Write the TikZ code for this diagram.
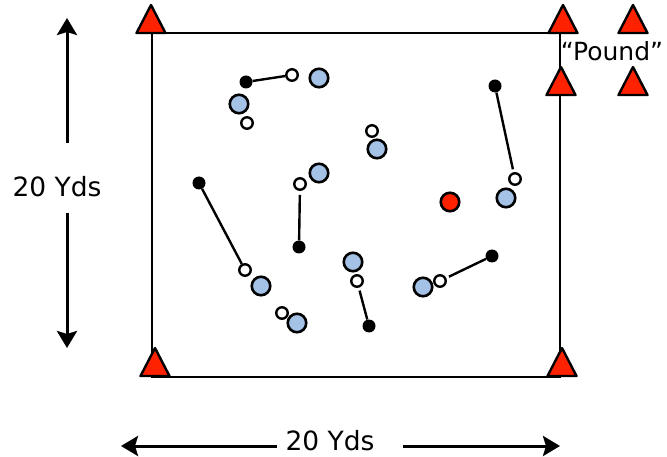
\documentclass[tikz,border=0pt]{standalone}
\usepackage{fontspec}
\setmainfont{DejaVu Sans}
\usetikzlibrary{arrows.meta}
\definecolor{pblue}{RGB}{164,194,230}
\definecolor{pred}{RGB}{255,34,0}
\tikzset{
  bluep/.style={circle,draw=black,line width=2.6pt,fill=pblue,minimum size=18.5pt,inner sep=0pt},
  whitep/.style={circle,draw=black,line width=2.4pt,fill=white,minimum size=11.5pt,inner sep=0pt},
  blackp/.style={circle,fill=black,minimum size=13pt,inner sep=0pt},
  ballp/.style={circle,draw=black,line width=2.6pt,fill=pred,minimum size=18.5pt,inner sep=0pt},
  link/.style={line width=2.4pt},
  field/.style={line width=2.6pt},
  dim/.style={line width=3pt,-{Stealth[length=17pt,width=20pt,inset=3pt]}},
  lbl/.style={font=\fontsize{26.5}{31}\selectfont,inner sep=0pt,anchor=base},
  cone/.pic={\filldraw[fill=pred,draw=black,line width=2.4pt,line join=round] (-14.5,0)--(14.5,0)--(0,-28)--cycle;}
}
\begin{document}
\begin{tikzpicture}[x=1pt,y=-1pt]
\useasboundingbox (0,0) rectangle (667,457);
% field
\coordinate (f1) at (152,33);
\coordinate (f2) at (560,377);
\draw[field] (f1) rectangle (f2);
% cones
\pic at (151,33) {cone};
\pic at (563,33) {cone};
\pic at (561,95) {cone};
\pic at (633,33) {cone};
\pic at (633,95) {cone};
\pic at (155,376) {cone};
\pic at (562,376) {cone};
\node[lbl,font=\fontsize{25}{30}\selectfont] (pound) at (612,61) {“Pound”};
% players
\node[blackp] (b1) at (246,82) {};
\node[whitep] (w1) at (292,75) {};
\node[bluep] (u1) at (319,78) {};
\node[bluep] (u2) at (239,104) {};
\node[whitep] (w2) at (247,123) {};
\node[whitep] (w3) at (372,131) {};
\node[bluep] (u3) at (377,149) {};
\node[blackp] (b2) at (495,86) {};
\node[whitep] (w4) at (515,179) {};
\node[bluep] (u4) at (506,198) {};
\node[ballp] (ball) at (450,202) {};
\node[blackp] (b3) at (199,183) {};
\node[whitep] (w5) at (245,270) {};
\node[bluep] (u5) at (261,286) {};
\node[whitep] (w6) at (282,313) {};
\node[bluep] (u6) at (297,323) {};
\node[whitep] (w7) at (300,184) {};
\node[bluep] (u7) at (319,173) {};
\node[blackp] (b4) at (299,247) {};
\node[bluep] (u8) at (353,262) {};
\node[whitep] (w8) at (357,281) {};
\node[blackp] (b5) at (369,326) {};
\node[blackp] (b6) at (492,256) {};
\node[whitep] (w9) at (440,281) {};
\node[bluep] (u9) at (423,287) {};
% links
\draw[link] (b1) -- (w1);
\draw[link,shorten >=3pt] (b2) -- (w4);
\draw[link] (b3) -- (w5);
\draw[link,shorten <=4pt] (w7) -- (b4);
\draw[link,shorten <=3pt] (w8) -- (b5);
\draw[link,shorten >=3pt] (b6) -- (w9);
% dimensions
\node[lbl] (lv) at (57,197) {20 Yds};
\node[lbl] (lh) at (330,450) {20 Yds};
\coordinate (vt) at (67,18);
\coordinate (vb) at (67,348);
\coordinate (hl) at (121,446);
\coordinate (hr) at (560,446);
\draw[dim] (67,143) -- (vt);
\draw[dim] (67,213) -- (vb);
\draw[dim] (277,446) -- (hl);
\draw[dim] (403,446) -- (hr);
\end{tikzpicture}
\end{document}
